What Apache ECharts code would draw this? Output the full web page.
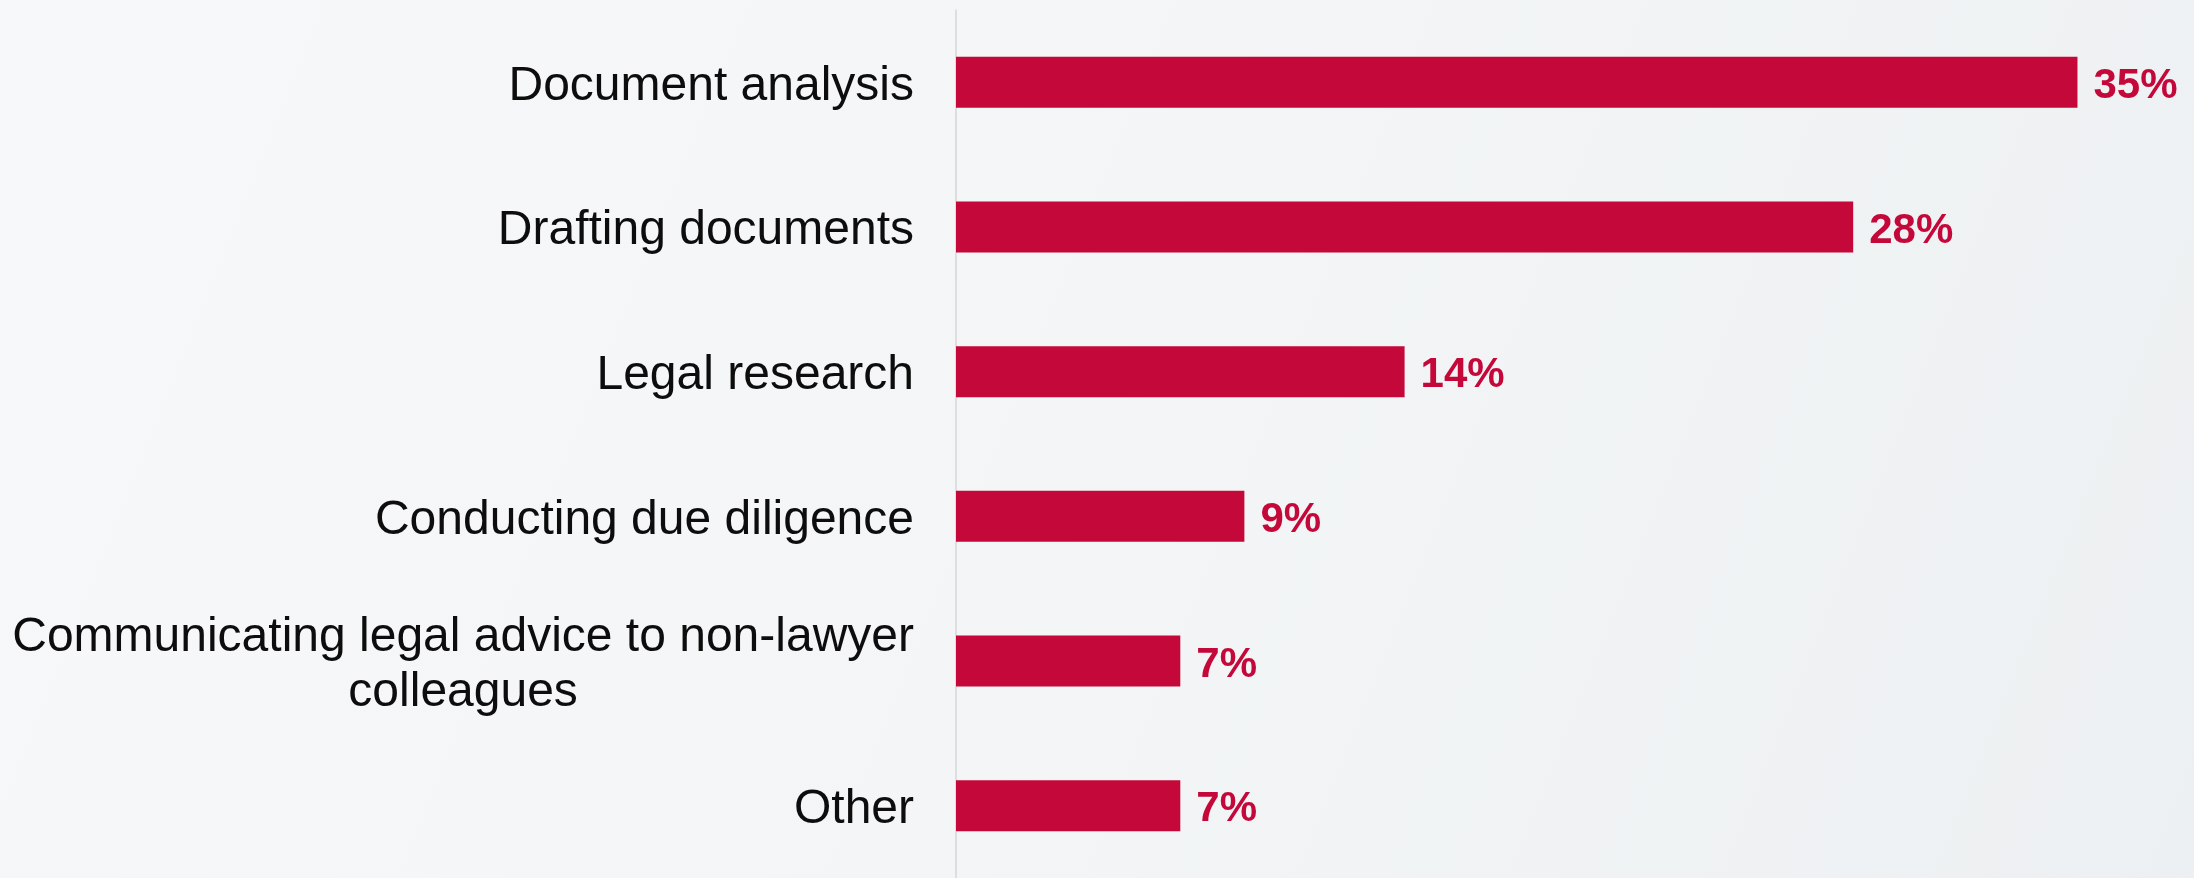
<!DOCTYPE html>
<html>
<head>
<meta charset="utf-8">
<title>Tasks</title>
<script src="https://cdn.jsdelivr.net/npm/echarts@6/dist/echarts.min.js"></script>
<style>
  html, body { margin: 0; padding: 0; width: 100%; height: 100%; overflow: hidden; }
  #chart { width: 2194px; height: 878px; }
</style>
</head>
<body>
<div id="chart"></div>
<script>
// Share of respondents by task
const categories = [
  'Document analysis',
  'Drafting documents',
  'Legal research',
  'Conducting due diligence',
  'Communicating legal advice to non-lawyer\ncolleagues',
  'Other'
];
const shares = [35, 28, 14, 9, 7, 7];

const barColor = '#C4093A';
const font = '"Liberation Sans", Arial, Helvetica, sans-serif';

const chart = echarts.init(document.getElementById('chart'));

chart.setOption({
  backgroundColor: {
    type: 'linear', x: 0, y: 0, x2: 1, y2: 1,
    colorStops: [
      { offset: 0, color: '#F7F8F9' },
      { offset: 0.5, color: '#F3F5F6' },
      { offset: 1, color: '#EDF0F2' }
    ]
  },
  animation: false,
  grid: { left: 956, right: 22, top: 10, bottom: -2, containLabel: false },
  xAxis: {
    type: 'value',
    min: 0,
    max: 37.95,
    show: false
  },
  yAxis: {
    type: 'category',
    data: categories,
    inverse: true,
    axisTick: { show: false },
    axisLine: { show: true, lineStyle: { color: '#D6D6D6', width: 1.5 } },
    axisLabel: {
      margin: 42,
      color: '#0D0D0D',
      fontFamily: font,
      fontSize: 48,
      lineHeight: 55,
      align: 'right',
      padding: [8, 0, 0, 0],
      formatter: function (v) {
        return v.split('\n').map(function (line) { return '{c|' + line + '}'; }).join('\n');
      },
      rich: {
        c: {
          align: 'center',
          color: '#0D0D0D',
          fontFamily: font,
          fontSize: 48,
          lineHeight: 55
        }
      }
    }
  },
  series: [{
    type: 'bar',
    data: shares,
    barWidth: 51,
    itemStyle: { color: barColor },
    label: {
      show: true,
      position: 'right',
      distance: 16,
      offset: [0, 4],
      formatter: '{c}%',
      color: barColor,
      fontFamily: font,
      fontSize: 42,
      fontWeight: 'bold'
    }
  }]
});
</script>
</body>
</html>
